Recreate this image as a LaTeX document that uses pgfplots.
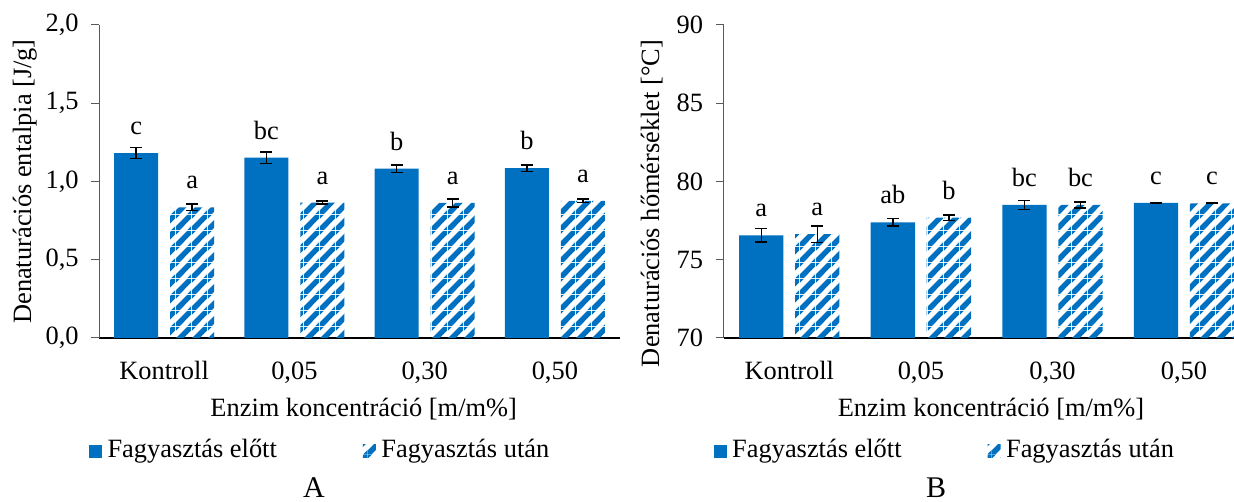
\documentclass[border=0pt]{standalone}
\usepackage{fontspec}
\setmainfont{Liberation Serif}
\usepackage{pgfplots}
\usepackage{pgfplotstable}
\pgfplotsset{compat=1.18}
\usetikzlibrary{patterns.meta}

\definecolor{xblue}{RGB}{0,112,192}

% wide upward diagonal stripes for the "after freezing" series
\tikzdeclarepattern{
  name=wideupdiag,
  type=uncolored,
  bottom left={(0pt,0pt)},
  top right={(8pt,8pt)},
  tile size={(8pt,8pt)},
  code={
    \fill (0pt,0pt) -- (2pt,0pt) -- (8pt,6pt) -- (8pt,8pt)
          -- (6pt,8pt) -- (0pt,2pt) -- cycle;
    \fill (0pt,6pt) -- (2pt,8pt) -- (0pt,8pt) -- cycle;
    \fill (6pt,0pt) -- (8pt,0pt) -- (8pt,2pt) -- cycle;
  }
}

% A: denaturation enthalpy [J/g]
\pgfplotstableread{
x y err lbl
0 1.182 0.036 c
1 1.152 0.038 bc
2 1.083 0.024 b
3 1.085 0.020 b
}\entBefore
\pgfplotstableread{
x y err lbl
0 0.835 0.021 a
1 0.865 0.010 a
2 0.863 0.025 a
3 0.876 0.011 a
}\entAfter

% B: denaturation temperature [°C]
\pgfplotstableread{
x y err lbl
0 76.56 0.43 a
1 77.39 0.24 ab
2 78.50 0.30 bc
3 78.63 0.03 c
}\tmpBefore
\pgfplotstableread{
x y err lbl
0 76.63 0.53 a
1 77.69 0.18 b
2 78.50 0.18 bc
3 78.61 0.02 c
}\tmpAfter

\pgfplotsset{
  panel/.style={
    scale only axis,
    height=156.5pt,
    anchor=south west,
    xmin=-0.5,
    axis x line=bottom, axis y line=left,
    axis line style={-},
    x axis line style={black, line width=1pt},
    y axis line style={black!65, line width=0.5pt},
    xtick={0,1,2,3},
    xticklabels={Kontroll,{0,05},{0,30},{0,50}},
    major x tick style={draw=none},
    ytick pos=left,
    tick align=outside,
    major tick length=4pt,
    major y tick style={black!65, line width=0.5pt},
    xticklabel style={anchor=base, yshift=-16.5pt},
    yticklabel style={anchor=east, inner sep=0pt, xshift=-6pt},
    /pgf/number format/assume math mode=true,
    every axis y label/.style={rotate=90, anchor=base},
    every axis x label/.style={anchor=base},
    legend columns=2,
    legend cell align=left,
    legend image code/.code={\fill[##1] (0pt,0pt) rectangle (6.5pt,6.5pt);},
    legend style={
      at={(axis description cs:-0.0192,-0.392)}, anchor=south west,
      draw=none, fill=none, inner sep=0pt, outer sep=0pt,
      column sep=0pt,
      nodes={inner sep=0pt, anchor=base west},
      /tikz/every odd column/.append style={column sep=2.75pt},
      /tikz/every even column/.append style={column sep=43pt},
    },
    error bars/y dir=both,
    error bars/y explicit,
    error bars/error bar style={black, line width=0.75pt},
    error bars/error mark options={rotate=90, mark size=3pt, line width=0.75pt, black},
    nodes near coords,
    point meta=explicit symbolic,
    every node near coord/.append style={anchor=base, inner sep=0pt, yshift=9.25pt, black},
  },
  % bars are positioned through their x values, so that error bars
  % and letters follow them
  before/.style={ybar, bar width=0.337, bar shift=0pt, fill=xblue, draw=none},
  after/.style={ybar, bar width=0.337, bar shift=0pt, draw=none,
    pattern=wideupdiag, pattern color=xblue},
}

\begin{document}
\begin{tikzpicture}[font=\fontsize{13.2}{15.8}\selectfont]
\path[use as bounding box] (0pt,0pt) rectangle (617pt,251pt);

\begin{axis}[panel,
  at={(49.5pt,82pt)},
  width=260.5pt,
  xmax=3.5,
  ymin=0, ymax=2,
  ytick={0,0.5,1,1.5,2},
  yticklabel style={/pgf/number format/.cd, use comma, fixed, fixed zerofill, precision=1},
  ylabel={Denaturációs entalpia [J/g]},
  ylabel style={at={(axis description cs:-0.1305,0.5)}},
  xlabel={Enzim koncentráció [m/m\%]},
  xlabel style={at={(axis description cs:0.508,-0.2524)}},
]
\addplot[before] table[x expr=\thisrow{x}-0.215, y=y, y error=err, meta=lbl] {\entBefore};
\addlegendentry{Fagyasztás előtt}
\addplot[after] table[x expr=\thisrow{x}+0.215, y=y, y error=err, meta=lbl] {\entAfter};
\addlegendentry{Fagyasztás után}
\end{axis}

\begin{axis}[panel,
  at={(361.75pt,82pt)},
  width=255.25pt,
  xmax=3.38,
  ymin=70, ymax=90,
  ytick={70,75,80,85,90},
  ylabel={Denaturációs hőmérséklet [°C]},
  ylabel style={at={(axis description cs:-0.1263,0.43)}},
  xlabel={Enzim koncentráció [m/m\%]},
  xlabel style={at={(axis description cs:0.524,-0.2524)}},
]
\addplot[before] table[x expr=\thisrow{x}-0.213, y=y, y error=err, meta=lbl] {\tmpBefore};
\addlegendentry{Fagyasztás előtt}
\addplot[after] table[x expr=\thisrow{x}+0.213, y=y, y error=err, meta=lbl] {\tmpAfter};
\addlegendentry{Fagyasztás után}
\end{axis}

\node[anchor=base, font=\fontsize{15}{18}\selectfont] at (157pt,2pt) {A};
\node[anchor=base, font=\fontsize{15}{18}\selectfont] at (468pt,2pt) {B};
\end{tikzpicture}
\end{document}
